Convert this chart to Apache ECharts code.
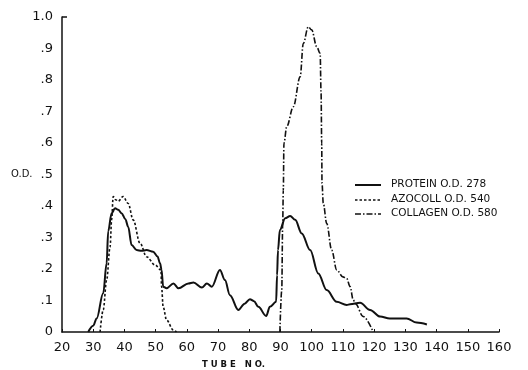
<!DOCTYPE html>
<html>
<head>
<meta charset="utf-8">
<script src="https://cdn.jsdelivr.net/npm/echarts@6/dist/echarts.min.js"></script>
<style>html,body{margin:0;padding:0;background:#fff}#c{width:528px;height:370px}</style>
</head>
<body>
<div id="c"></div>
<script>
const seriesNames = ['PROTEIN O.D. 278', 'AZOCOLL O.D. 540', 'COLLAGEN O.D. 580'];
const xTicks = [20, 30, 40, 50, 60, 70, 80, 90, 100, 110, 120, 130, 140, 150, 160];
const yTicks = [0, 0.1, 0.2, 0.3, 0.4, 0.5, 0.6, 0.7, 0.8, 0.9, 1.0];

const proteinTube = [28.4, 30.0, 31.1, 33.2, 34.3, 34.8, 35.9, 37.0, 38.0, 39.1, 40.3, 41.2, 42.3, 43.9, 45.5, 47.1, 49.2, 50.6, 51.4, 51.9, 52.4, 53.5, 55.7, 57.3, 60.5, 62.1, 64.8, 66.4, 68.0, 70.6, 72.2, 73.8, 76.5, 78.5, 80.2, 81.5, 82.9, 85.4, 86.6, 88.6, 88.9, 89.2, 89.8, 91.5, 93.1, 94.7, 96.8, 99.5, 102.1, 104.8, 108.0, 111.2, 112.3, 115.5, 118.7, 121.9, 125.0, 128.3, 130.4, 133.6, 136.9];
const proteinOD   = [0.000, 0.020, 0.043, 0.123, 0.218, 0.320, 0.377, 0.393, 0.388, 0.377, 0.358, 0.334, 0.276, 0.260, 0.258, 0.260, 0.255, 0.240, 0.218, 0.197, 0.144, 0.139, 0.154, 0.139, 0.154, 0.157, 0.141, 0.154, 0.144, 0.197, 0.165, 0.117, 0.070, 0.090, 0.104, 0.098, 0.080, 0.051, 0.080, 0.096, 0.180, 0.260, 0.324, 0.361, 0.368, 0.356, 0.313, 0.260, 0.186, 0.133, 0.096, 0.086, 0.088, 0.093, 0.070, 0.049, 0.043, 0.043, 0.043, 0.030, 0.024];

const azocollTube = [32.2, 33.2, 34.3, 35.4, 35.9, 36.4, 37.2, 38.0, 39.6, 41.2, 42.8, 45.0, 47.1, 49.8, 51.7, 51.9, 52.4, 53.5, 55.7, 56.7];
const azocollOD   = [0.000, 0.070, 0.165, 0.270, 0.356, 0.430, 0.420, 0.415, 0.430, 0.408, 0.356, 0.282, 0.239, 0.213, 0.197, 0.144, 0.080, 0.038, 0.006, 0.000];

const collagenTube = [89.8, 90.4, 90.7, 90.9, 91.1, 92.0, 94.1, 96.3, 97.3, 98.9, 100.0, 101.6, 102.7, 103.0, 103.2, 103.3, 103.7, 104.8, 106.4, 108.0, 110.0, 111.2, 112.3, 113.3, 114.0, 116.5, 119.7];
const collagenOD   = [0.000, 0.133, 0.345, 0.450, 0.599, 0.652, 0.715, 0.810, 0.916, 0.969, 0.959, 0.906, 0.885, 0.758, 0.599, 0.472, 0.409, 0.345, 0.260, 0.197, 0.175, 0.170, 0.144, 0.102, 0.090, 0.049, 0.000];

function zip(a, b) { return a.map((x, i) => [x, b[i]]); }

const chart = echarts.init(document.getElementById('c'), null, {renderer: 'canvas'});
const FONT = 'DejaVu Sans';
const lineCommon = {type: 'line', symbol: 'none', smooth: 0.35, smoothMonotone: 'x', animation: false};
const dashes = [null, [2.5, 2], [6, 2, 1.5, 2]];
const widths = [2, 1.6, 1.6];

const legendGraphics = [];
const legendRowsY = [185, 200, 214];
seriesNames.forEach((n, i) => {
  legendGraphics.push({type: 'line', shape: {x1: 355, y1: legendRowsY[i], x2: 381, y2: legendRowsY[i]},
    style: {stroke: '#111', lineWidth: widths[i], lineDash: dashes[i]}});
  legendGraphics.push({type: 'text', left: 391, top: legendRowsY[i] - 6,
    style: {text: n, font: '10.5px "DejaVu Sans"', fill: '#111'}});
});

chart.setOption({
  backgroundColor: '#fff',
  animation: false,
  grid: {left: 62, right: 29, top: 17, bottom: 38, containLabel: false},
  xAxis: {
    type: 'value', min: xTicks[0], max: xTicks[xTicks.length - 1], interval: 10,
    axisLine: {lineStyle: {color: '#111', width: 1.5}},
    axisTick: {inside: true, length: 3, lineStyle: {color: '#111', width: 1}},
    splitLine: {show: false},
    axisLabel: {fontFamily: FONT, fontSize: 13, color: '#111', margin: 9}
  },
  yAxis: {
    type: 'value', min: yTicks[0], max: yTicks[yTicks.length - 1], interval: 0.1,
    axisLine: {show: true, lineStyle: {color: '#111', width: 1.5}},
    axisTick: {show: false},
    splitLine: {show: false},
    axisLabel: {
      fontFamily: FONT, fontSize: 13, color: '#111', margin: 9,
      formatter: v => {
        const r = Math.round(v * 10);
        if (r === 0) return '0';
        if (r === 10) return '1.0';
        return '.' + r;
      }
    }
  },
  graphic: [
    {type: 'text', left: 11, top: 169, style: {text: 'O.D.', font: '10px "DejaVu Sans"', fill: '#111'}},
    {type: 'text', left: 202, top: 360, style: {text: 'T U B E   N O.', font: 'bold 8.5px "DejaVu Sans"', fill: '#111'}},
    {type: 'line', shape: {x1: 62, y1: 17, x2: 67, y2: 17}, style: {stroke: '#111', lineWidth: 1.5}}
  ].concat(legendGraphics),
  series: [
    Object.assign({}, lineCommon, {name: seriesNames[0], data: zip(proteinTube, proteinOD),
      lineStyle: {color: '#111', width: widths[0], type: 'solid'}}),
    Object.assign({}, lineCommon, {name: seriesNames[1], data: zip(azocollTube, azocollOD),
      lineStyle: {color: '#111', width: widths[1], type: dashes[1]}}),
    Object.assign({}, lineCommon, {name: seriesNames[2], data: zip(collagenTube, collagenOD),
      lineStyle: {color: '#111', width: widths[2], type: dashes[2]}})
  ]
});
</script>
</body>
</html>
